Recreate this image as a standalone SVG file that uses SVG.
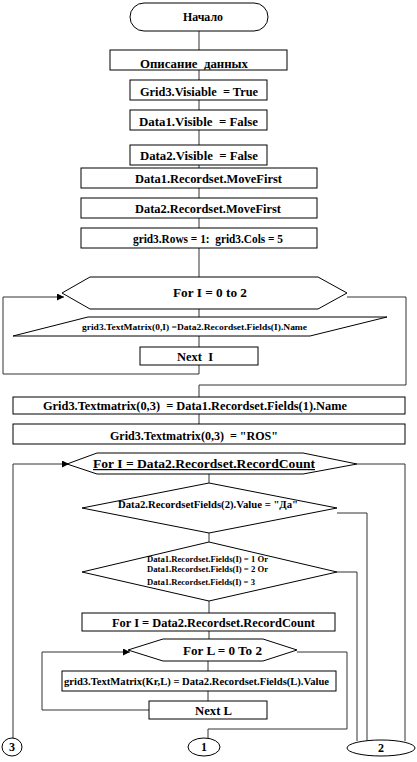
<svg xmlns="http://www.w3.org/2000/svg" width="417" height="762" viewBox="0 0 417 762">
<defs>
<marker id="arr" viewBox="0 0 10 10" refX="10" refY="5" markerWidth="7" markerHeight="7" markerUnits="userSpaceOnUse" orient="auto"><path d="M0,0 L10,5 L0,10 z" fill="#000"/></marker>
<style>
.s{fill:#fff;stroke:#000;stroke-width:1}
.c{fill:none;stroke:#333;stroke-width:1}
.t{font-family:"Liberation Serif","Times New Roman",serif;font-weight:bold;font-size:12px;fill:#000;white-space:pre}
.sm{font-size:9px}
.md{font-size:10px}
</style>
</defs>
<rect width="417" height="762" fill="#fff"/>
<g id="connectors">
<path class="c" d="M199,31V50M199,70V80M199,100V110M199,130V145M199,165V168M199,188V198M199,218V228M199,248V277M199,309V317M199,336V347M199,365V374H3V297H64" marker-end="url(#arr)"/>
<path class="c" d="M347,297H406V385H199V397M199,414V424"/>
<path class="c" d="M13,738V464H69" marker-end="url(#arr)"/>
<path class="c" d="M357,464H405V741"/>
<path class="c" d="M209,474V483M209,533V542M209,601V613M209,631V639M208,661V671M208,691V701"/>
<path class="c" d="M337,513H367V741M337,572H357V741"/>
<path class="c" d="M149,710H42V652H130" marker-end="url(#arr)"/>
<path class="c" d="M297,652H347V729H208V738"/>
</g>
<g id="start"><rect class="s" x="130" y="3" width="138" height="28" rx="14"/><text class="t" x="183" y="21" textLength="40" lengthAdjust="spacingAndGlyphs">Начало</text></g>
<g id="desc"><rect class="s" x="110" y="50" width="177" height="20"/><text class="t" x="140" y="68" textLength="108" lengthAdjust="spacingAndGlyphs">Описание  данных</text></g>
<g id="grid3vis"><rect class="s" x="130" y="80" width="137" height="20"/><text class="t" x="140" y="96" textLength="118" lengthAdjust="spacingAndGlyphs">Grid3.Visiable  = True</text></g>
<g id="data1vis"><rect class="s" x="130" y="110" width="137" height="20"/><text class="t" x="139" y="126" textLength="119" lengthAdjust="spacingAndGlyphs">Data1.Visible  = False</text></g>
<g id="data2vis"><rect class="s" x="130" y="145" width="137" height="20"/><text class="t" x="140" y="160" textLength="118" lengthAdjust="spacingAndGlyphs">Data2.Visible  = False</text></g>
<g id="data1move"><rect class="s" x="81" y="168" width="236" height="20"/><text class="t" x="135" y="183" textLength="147" lengthAdjust="spacingAndGlyphs">Data1.Recordset.MoveFirst</text></g>
<g id="data2move"><rect class="s" x="81" y="198" width="236" height="20"/><text class="t" x="135" y="213" textLength="146" lengthAdjust="spacingAndGlyphs">Data2.Recordset.MoveFirst</text></g>
<g id="rowscols"><rect class="s" x="81" y="228" width="236" height="20"/><text class="t" x="133" y="243" textLength="150" lengthAdjust="spacingAndGlyphs">grid3.Rows = 1:  grid3.Cols = 5</text></g>
<g id="forI1"><polygon class="s" points="62,293 90,277 318,277 347,293 318,309 90,309"/><text class="t" x="173" y="297" textLength="74" lengthAdjust="spacingAndGlyphs">For I = 0 to 2</text></g>
<g id="textmatrix1"><polygon class="s" points="88,317 387,317 310,336 13,336"/><text class="t sm" x="82" y="330" textLength="225" lengthAdjust="spacingAndGlyphs">grid3.TextMatrix(0,I) =Data2.Recordset.Fields(I).Name</text></g>
<g id="nextI"><rect class="s" x="140" y="347" width="118" height="18"/><text class="t" x="177" y="361" textLength="36" lengthAdjust="spacingAndGlyphs">Next  I</text></g>
<g id="tm03a"><rect class="s" x="13" y="397" width="392" height="17"/><text class="t" x="43" y="410" textLength="304" lengthAdjust="spacingAndGlyphs">Grid3.Textmatrix(0,3)  = Data1.Recordset.Fields(1).Name</text></g>
<g id="tm03b"><rect class="s" x="13" y="424" width="392" height="20"/><text class="t" x="110" y="440" textLength="168" lengthAdjust="spacingAndGlyphs">Grid3.Textmatrix(0,3)  = "ROS"</text></g>
<g id="forI2"><polygon class="s" points="67,464 97,453 303,453 357,464 303,474 97,474"/><text class="t" x="93" y="468" textLength="222" lengthAdjust="spacingAndGlyphs" text-decoration="underline">For I = Data2.Recordset.RecordCount</text></g>
<g id="cond1"><polygon class="s" points="209,483 337,508 209,533 82,508"/><text class="t md" x="118" y="508" textLength="180" lengthAdjust="spacingAndGlyphs">Data2.RecordsetFields(2).Value = "Да"</text></g>
<g id="cond2"><polygon class="s" points="209,542 337,572 209,601 82,572"/>
<text class="t sm" x="147" y="562" textLength="121" lengthAdjust="spacingAndGlyphs">Data1.Recordset.Fields(I) = 1 Or</text>
<text class="t sm" x="147" y="572" textLength="121" lengthAdjust="spacingAndGlyphs">Data1.Recordset.Fields(I) = 2 Or</text>
<text class="t sm" x="147" y="585" textLength="108" lengthAdjust="spacingAndGlyphs">Data1.Recordset.Fields(I) = 3</text></g>
<g id="forI3"><rect class="s" x="82" y="613" width="253" height="18"/><text class="t" x="112" y="627" textLength="203" lengthAdjust="spacingAndGlyphs">For I = Data2.Recordset.RecordCount</text></g>
<g id="forL"><polygon class="s" points="128,650 163,639 263,639 297,650 263,661 163,661"/><text class="t" x="183" y="655" textLength="79" lengthAdjust="spacingAndGlyphs">For L = 0 To 2</text></g>
<g id="textmatrix2"><rect class="s" x="62" y="671" width="274" height="20"/><text class="t md" x="64" y="685" textLength="265" lengthAdjust="spacingAndGlyphs">grid3.TextMatrix(Kr,L) = Data2.Recordset.Fields(L).Value</text></g>
<g id="nextL"><rect class="s" x="149" y="701" width="118" height="18"/><text class="t" x="195" y="715" textLength="37" lengthAdjust="spacingAndGlyphs">Next L</text></g>
<g id="conn3"><ellipse class="s" cx="12" cy="747" rx="10" ry="9"/><text class="t" x="12" y="751" text-anchor="middle">3</text></g>
<g id="conn1"><ellipse class="s" cx="204" cy="747" rx="16" ry="9"/><text class="t" x="204" y="751" text-anchor="middle">1</text></g>
<g id="conn2"><ellipse class="s" cx="381" cy="748" rx="34" ry="8"/><text class="t" x="381" y="752" text-anchor="middle">2</text></g>
</svg>
